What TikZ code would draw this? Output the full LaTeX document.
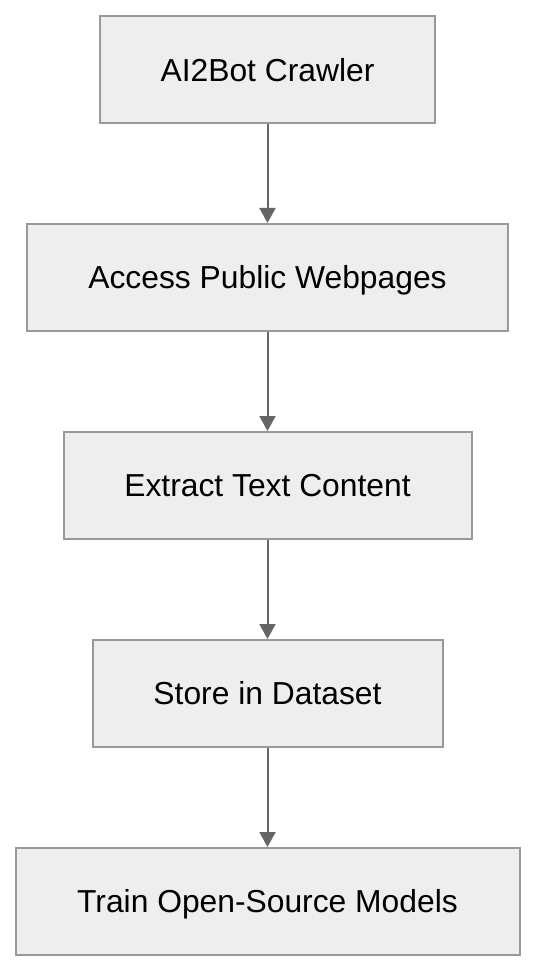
\documentclass[tikz,border=0pt]{standalone}
\usepackage{fontspec}
\setmainfont{Liberation Sans}
\usetikzlibrary{arrows.meta}
\definecolor{boxfill}{HTML}{EEEEEE}
\definecolor{boxline}{HTML}{999999}
\definecolor{arrowcol}{HTML}{666666}
\begin{document}
\begin{tikzpicture}[x=0.5pt,y=-0.5pt,
  stepbox/.style={draw=boxline,fill=boxfill,line width=1pt,minimum height=53.5pt,inner sep=0pt,text height=11.4pt,text depth=0pt,font=\fontsize{15.9}{19}\selectfont},
  flow/.style={draw=arrowcol,line width=1pt,-{Triangle[length=7.5pt,width=8pt]}}]
\useasboundingbox (0,0) rectangle (534,972);
\node[stepbox,minimum width=167.5pt] (a) at (267.5,70) {AI2Bot Crawler};
\node[stepbox,minimum width=240.5pt] (b) at (267.5,277.5) {Access Public Webpages};
\node[stepbox,minimum width=204pt] (c) at (267.5,485.5) {Extract Text Content};
\node[stepbox,minimum width=175pt] (d) at (267.5,693.5) {Store in Dataset};
\node[stepbox,minimum width=252pt] (e) at (267.5,901.5) {Train Open-Source Models};
\draw[flow] (a) -- (b);
\draw[flow] (b) -- (c);
\draw[flow] (c) -- (d);
\draw[flow] (d) -- (e);
\end{tikzpicture}
\end{document}
